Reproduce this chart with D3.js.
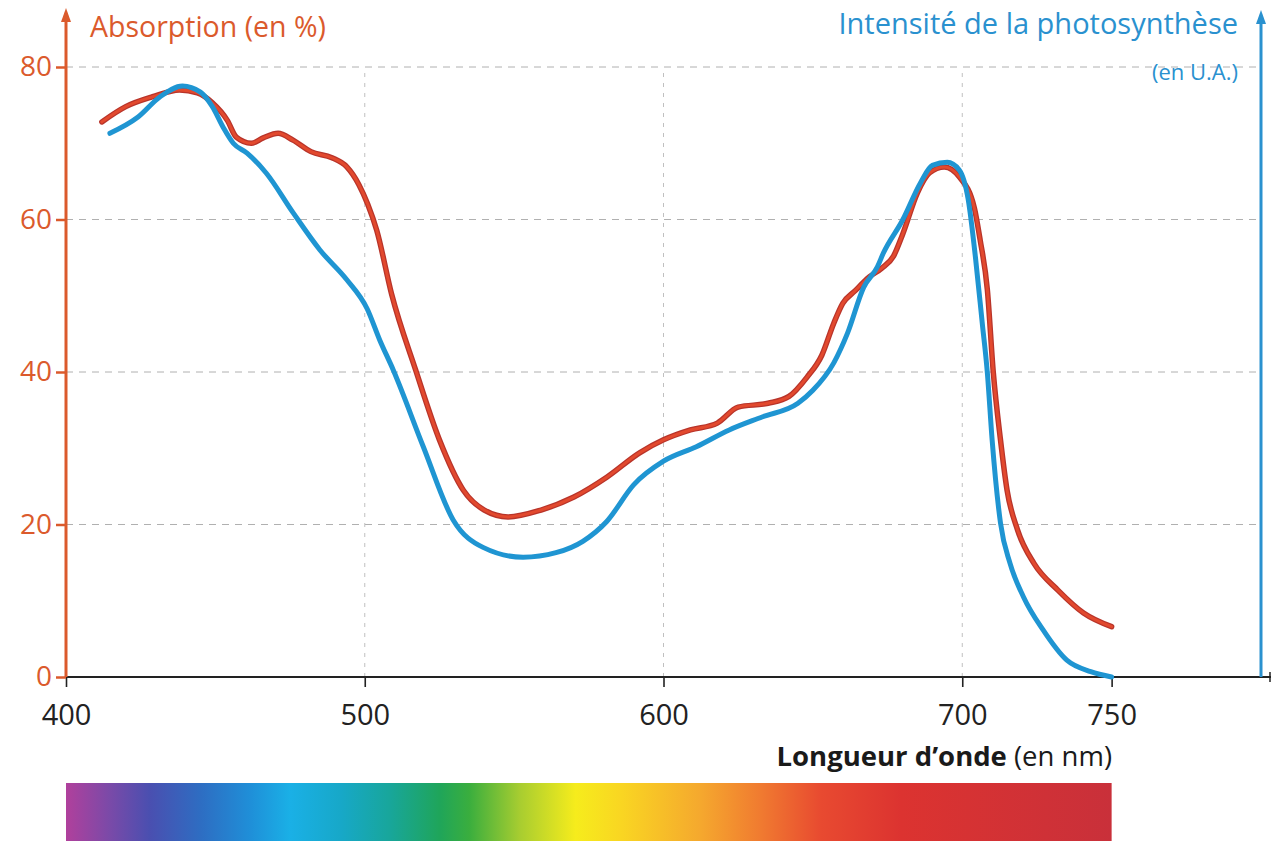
<!DOCTYPE html>
<html><head><meta charset="utf-8">
<script src="https://cdn.jsdelivr.net/npm/d3@7/dist/d3.min.js"></script>
<style>
body{margin:0;background:#fff;}
text{font-family:"Open Sans","Noto Sans",sans-serif;}
</style></head>
<body><svg id="c" width="1272" height="841"></svg>
<script>
// ---- data ----
const absorptionNm = [412,420,429,438,444,449,454,457,462,466,471,476,482,489,494,498,501,504,509,517,525,533,540,548,559,570,581,592,600,609,618,625,635,642,648,653,657,660,664,669,673,677,680,685,689,694,699,704,706,708.4,710.4,712.8,715,718.5,724,732,740.6,750];
const absorptionVal = [72.8,74.8,76.1,77.0,76.6,75.3,73.0,70.8,70.0,70.7,71.3,70.4,68.9,68.1,66.9,64.6,62.0,58.6,50.2,40.3,31.1,24.5,21.9,21.0,21.9,23.6,26.2,29.4,31.1,32.4,33.3,35.4,35.9,36.8,39.3,42.2,46.4,49.0,50.6,52.5,53.6,55.2,58.0,63.5,66.1,66.9,65.6,61.6,57.3,50.8,39.9,31.1,24.5,19.3,14.9,11.4,8.4,6.6];
const photoNm = [414.7,424,431.5,439,445,449,452.6,456,460.6,467,476,485,494,500.8,505,509.5,519.6,529.6,539.6,553,564,573,581,590,600,611,622,633,645,650,657,661.6,667,671.6,673.6,680,686,690,695,699,702,704.4,706.7,708.4,710,712.8,716,720.5,727,735,743,750];
const photoVal = [71.3,73.4,76.1,77.5,76.7,74.8,72.1,70.0,68.7,66.1,60.9,56.0,52.1,48.3,44.2,40.3,30.2,20.6,17.0,15.7,16.3,17.8,20.4,25.2,28.3,30.2,32.4,34.1,35.9,37.6,41.2,45.1,51.1,53.8,55.6,59.9,64.8,67.1,67.5,66.5,62.6,55.1,46.4,39.9,31.1,20.2,14.9,10.5,6.2,2.2,0.7,0];
const xTicks = [400,500,600,700,750];
const xGrid = [500,600,700];
const yTicks = [0,20,40,60,80];
const yGrid = [20,40,60,80];
const spectrumNm = [400,414.7,428,445,461.7,475,492,508.6,525,535,552,570.6,585.7,612.5,632.7,652.8,679.6,750];
const spectrumCol = ["#b0409c","#7a4aa8","#4a4fb0","#2e6dc2","#1f8fd8","#1ab0e6","#17a8c8","#18a69a","#1fa55a","#3aae3e","#a8cd30","#f6ec1c","#f9d622","#f5a82e","#f07a30","#e84a30","#dc3330","#c9303a"];

// ---- drawing ----
const svg = d3.select("#c");
const x = d3.scaleLinear().domain([400,800]).range([66,1261]);
const y = d3.scaleLinear().domain([0,80]).range([677,67]);
const orange = "#db5a2c", blue = "#2a91cf";

// spectrum bar
const defs = svg.append("defs");
const grad = defs.append("linearGradient").attr("id","spec").attr("gradientUnits","userSpaceOnUse")
  .attr("x1",x(400)).attr("x2",x(750)).attr("y1",0).attr("y2",0);
spectrumNm.forEach((n,i)=>grad.append("stop").attr("offset",(n-400)/350).attr("stop-color",spectrumCol[i]));
svg.append("rect").attr("x",x(400)).attr("y",783).attr("width",x(750)-x(400)).attr("height",60).attr("fill","url(#spec)");

// grid
const g = svg.append("g");
g.selectAll(".hg").data(yGrid).join("line")
  .attr("x1",x(400)).attr("x2",x(800)).attr("y1",d=>y(d)).attr("y2",d=>y(d))
  .attr("stroke","#b0b0b0").attr("stroke-width",1).attr("stroke-dasharray","7,6");
g.selectAll(".vg").data(xGrid).join("line")
  .attr("x1",d=>x(d)).attr("x2",d=>x(d)).attr("y1",y(0)).attr("y2",y(80))
  .attr("stroke","#c0c0c0").attr("stroke-width",1).attr("stroke-dasharray","4,6");

// x axis
const xAxis = d3.axisBottom(x).tickValues(xTicks).tickSize(10).tickPadding(15).tickFormat(d3.format("d"));
const xa = svg.append("g").attr("transform",`translate(0,${y(0)})`).call(xAxis);
xa.select(".domain").remove();
xa.selectAll(".tick line").attr("stroke","#222").attr("stroke-width",1.6);
xa.selectAll(".tick text").attr("fill","#222").attr("font-size",29).attr("font-family","'Open Sans',sans-serif").attr("dy","0.8em");
svg.append("line").attr("x1",x(400)).attr("x2",1271).attr("y1",y(0)).attr("y2",y(0)).attr("stroke","#222").attr("stroke-width",2);
svg.append("line").attr("x1",1270).attr("x2",1270).attr("y1",y(0)-5).attr("y2",y(0)+5).attr("stroke","#222").attr("stroke-width",1.5);

// left y axis
const yAxis = d3.axisLeft(y).tickValues(yTicks).tickSize(10).tickPadding(4);
const ya = svg.append("g").attr("transform",`translate(${x(400)},0)`).call(yAxis);
ya.select(".domain").remove();
ya.selectAll(".tick line").attr("stroke",orange).attr("stroke-width",2.5);
ya.selectAll(".tick text").attr("fill",orange).attr("font-size",28).attr("font-family","'Open Sans',sans-serif");
svg.append("line").attr("x1",x(400)).attr("x2",x(400)).attr("y1",y(0)).attr("y2",18).attr("stroke",orange).attr("stroke-width",3);
svg.append("path").attr("d",`M${x(400)-5},22 L${x(400)},8 L${x(400)+5},22 Z`).attr("fill",orange);

// right axis
svg.append("line").attr("x1",x(800)).attr("x2",x(800)).attr("y1",y(0)).attr("y2",20).attr("stroke",blue).attr("stroke-width",3);
svg.append("path").attr("d",`M${x(800)-5},24 L${x(800)},10 L${x(800)+5},24 Z`).attr("fill",blue);

// curves
const line = d3.line().curve(d3.curveMonotoneX);
const absPts = absorptionNm.map((n,i)=>[x(n),y(absorptionVal[i])]);
const phoPts = photoNm.map((n,i)=>[x(n),y(photoVal[i])]);
svg.append("path").attr("d",line(absPts)).attr("fill","none").attr("stroke","#b8342a").attr("stroke-width",5.5).attr("stroke-linecap","round").attr("stroke-linejoin","round");
svg.append("path").attr("d",line(absPts)).attr("fill","none").attr("stroke","#e2492e").attr("stroke-width",3).attr("stroke-linecap","round");
svg.append("path").attr("d",line(phoPts)).attr("fill","none").attr("stroke","#1f95d2").attr("stroke-width",5).attr("stroke-linecap","round").attr("stroke-linejoin","round");

// titles
svg.append("text").attr("x",90).attr("y",37).attr("fill",orange).attr("font-size",28.5).attr("font-weight",500).text("Absorption (en %)");
svg.append("text").attr("x",1238).attr("y",34).attr("text-anchor","end").attr("fill",blue).attr("font-size",29).attr("font-weight",500).text("Intensité de la photosynthèse");
svg.append("text").attr("x",1238).attr("y",80).attr("text-anchor","end").attr("fill",blue).attr("font-size",22).text("(en U.A.)");
const xl = svg.append("text").attr("x",1112).attr("y",766).attr("text-anchor","end").attr("fill","#1a1a1a").attr("font-size",27.5);
xl.append("tspan").attr("font-weight","bold").text("Longueur d’onde");
xl.append("tspan").text(" (en nm)");
</script></body></html>
